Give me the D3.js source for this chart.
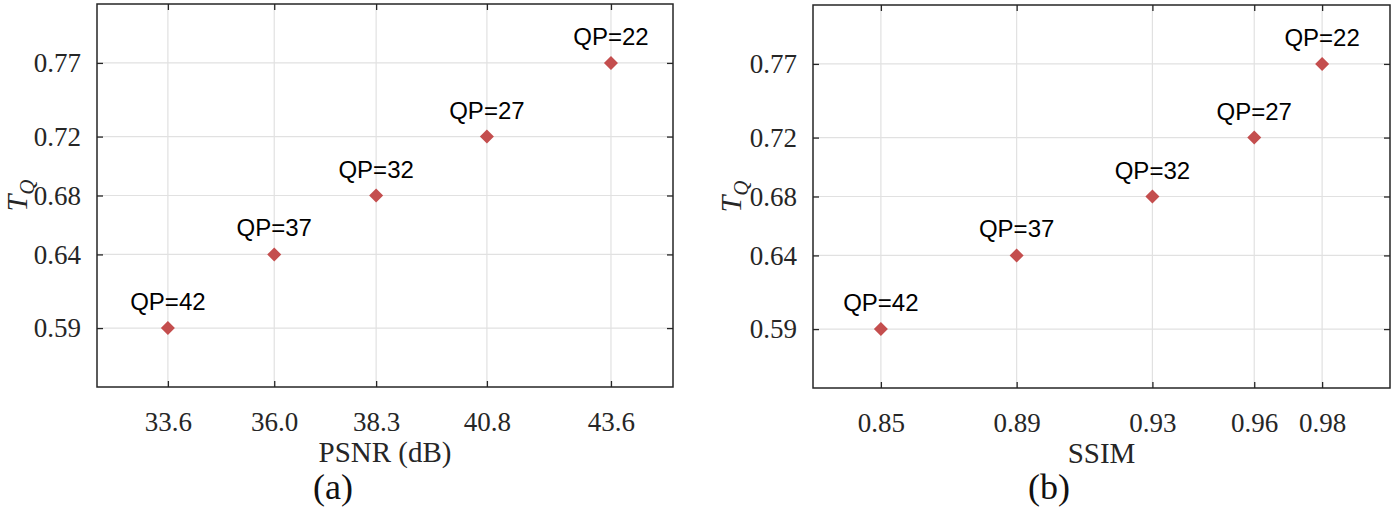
<!DOCTYPE html>
<html>
<head>
<meta charset="utf-8">
<script src="https://cdn.jsdelivr.net/npm/d3@7"></script>
<style>
  body { margin: 0; background: #fff; }
  svg { display: block; }
</style>
</head>
<body>
<script>
// QP settings and the measured quality for each one
var qp = [42, 37, 32, 27, 22];
var psnr = [33.6, 36.0, 38.3, 40.8, 43.6];
var ssim = [0.85, 0.89, 0.93, 0.96, 0.98];
var tq = [0.59, 0.64, 0.68, 0.72, 0.77];

var psnrDomain = [32, 45];
var ssimDomain = [0.83, 1.0];
var tqDomain = [0.55, 0.81];

var W = 1394, H = 509;
var svg = d3.select("body").append("svg")
    .attr("width", W)
    .attr("height", H);

var panels = [
  {xs: psnr, dom: psnrDomain, fmt: ".1f", label: "PSNR (dB)", tag: "(a)",
   left: 97, right: 673, top: 4, bottom: 387, tagX: 333, ylabX: 27},
  {xs: ssim, dom: ssimDomain, fmt: ".2f", label: "SSIM", tag: "(b)",
   left: 813, right: 1390, top: 5, bottom: 388, tagX: 1049, ylabX: 741}
];

panels.forEach(function(p) {
  var x = d3.scaleLinear().domain(p.dom).range([p.left, p.right]);
  var y = d3.scaleLinear().domain(tqDomain).range([p.bottom, p.top]);
  var g = svg.append("g");

  // grid
  g.selectAll(".gx").data(p.xs).enter().append("line")
    .attr("x1", function(d) { return x(d); })
    .attr("x2", function(d) { return x(d); })
    .attr("y1", p.top).attr("y2", p.bottom)
    .attr("stroke", "#e1e1e1").attr("stroke-width", 1.2);
  g.selectAll(".gy").data(tq).enter().append("line")
    .attr("y1", function(d) { return y(d); })
    .attr("y2", function(d) { return y(d); })
    .attr("x1", p.left).attr("x2", p.right)
    .attr("stroke", "#e1e1e1").attr("stroke-width", 1.2);

  // axes (inner ticks, mirrored on all four sides)
  var ax = function(a) {
    a.select(".domain").remove();
    a.selectAll(".tick line").attr("stroke", "#262626").attr("stroke-width", 1.3);
    a.selectAll("text").attr("fill", "#262626")
      .style("font-family", "'Liberation Serif', 'Times New Roman', serif")
      .style("font-size", "27px");
  };
  g.append("g").attr("transform", "translate(0," + p.bottom + ")")
    .call(d3.axisBottom(x).tickValues(p.xs).tickFormat(d3.format(p.fmt))
      .tickSizeInner(-6).tickSizeOuter(0).tickPadding(25))
    .call(ax);
  g.append("g").attr("transform", "translate(0," + p.top + ")")
    .call(d3.axisTop(x).tickValues(p.xs).tickSizeInner(-6).tickSizeOuter(0).tickFormat(""))
    .call(ax);
  g.append("g").attr("transform", "translate(" + p.left + ",0)")
    .call(d3.axisLeft(y).tickValues(tq).tickFormat(d3.format(".2f"))
      .tickSizeInner(-6).tickSizeOuter(0).tickPadding(16))
    .call(ax);
  g.append("g").attr("transform", "translate(" + p.right + ",0)")
    .call(d3.axisRight(y).tickValues(tq).tickSizeInner(-6).tickSizeOuter(0).tickFormat(""))
    .call(ax);

  g.append("rect")
    .attr("x", p.left).attr("y", p.top)
    .attr("width", p.right - p.left).attr("height", p.bottom - p.top)
    .attr("fill", "none").attr("stroke", "#262626").attr("stroke-width", 1.5);

  // points
  var pts = p.xs.map(function(v, i) { return {x: v, y: tq[i], qp: qp[i]}; });
  g.selectAll(".pt").data(pts).enter().append("path")
    .attr("d", d3.symbol().type(d3.symbolDiamond2).size(125))
    .attr("transform", function(d) { return "translate(" + x(d.x) + "," + y(d.y) + ")"; })
    .attr("fill", "#c44e4e");
  g.selectAll(".lb").data(pts).enter().append("text")
    .attr("x", function(d) { return x(d.x); })
    .attr("y", function(d) { return y(d.y) - 18; })
    .attr("text-anchor", "middle")
    .style("font-family", "'Liberation Sans', Arial, sans-serif")
    .style("font-size", "24px")
    .text(function(d) { return "QP=" + d.qp; });

  // axis labels
  g.append("text")
    .attr("x", (p.left + p.right) / 2).attr("y", p.bottom + 75)
    .attr("text-anchor", "middle").attr("fill", "#262626")
    .style("font-family", "'Liberation Serif', 'Times New Roman', serif")
    .style("font-size", "29px")
    .text(p.label);

  var yl = g.append("text")
    .attr("transform", "translate(" + p.ylabX + "," + (p.top + p.bottom) / 2 + ") rotate(-90)")
    .attr("text-anchor", "middle").attr("fill", "#262626")
    .style("font-family", "'Liberation Serif', 'Times New Roman', serif")
    .style("font-style", "italic")
    .style("font-size", "30px");
  yl.append("tspan").text("T");
  yl.append("tspan").attr("dy", 7).style("font-size", "21px").text("Q");

  g.append("text")
    .attr("x", p.tagX).attr("y", 499)
    .attr("text-anchor", "middle").attr("fill", "#111")
    .style("font-family", "'Liberation Serif', 'Times New Roman', serif")
    .style("font-size", "36px")
    .text(p.tag);
});
</script>
</body>
</html>
